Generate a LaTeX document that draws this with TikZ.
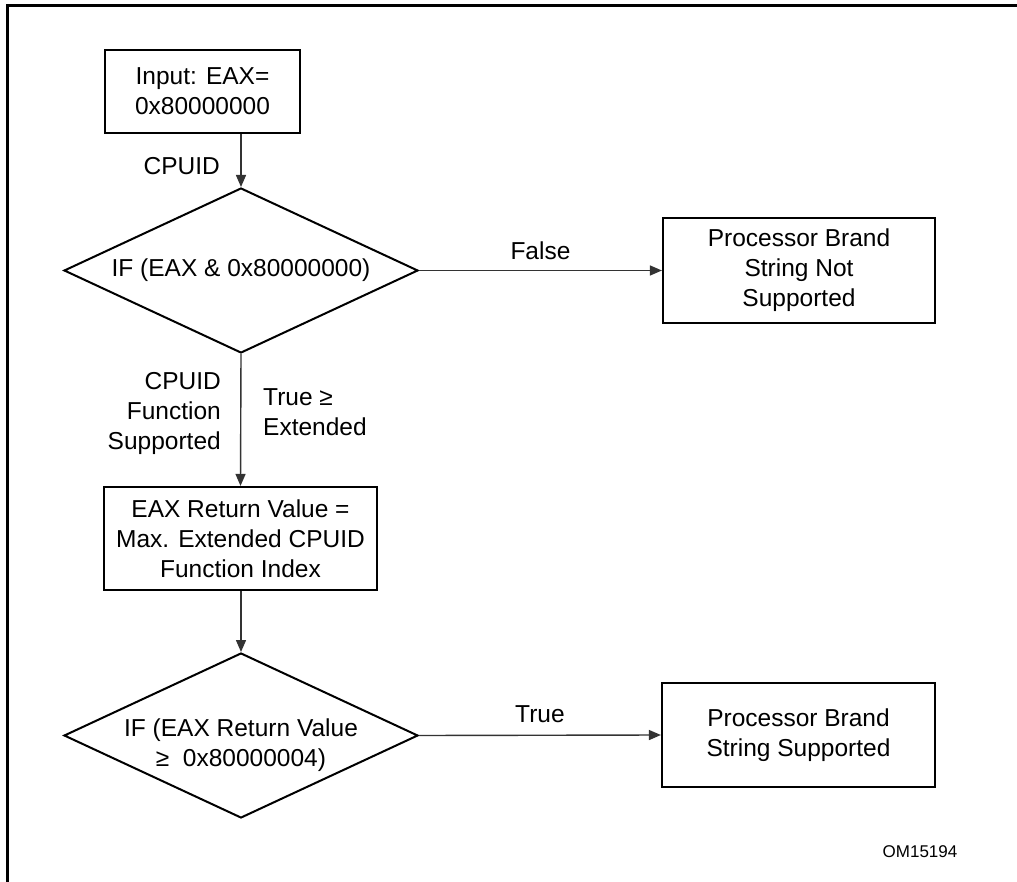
\documentclass[tikz,border=0pt]{standalone}
\usepackage{fontspec}
\setmainfont{Liberation Sans}
\usetikzlibrary{shapes.geometric,arrows.meta,shadows}
\begin{document}
\begin{tikzpicture}[x=1pt,y=-1pt,
  every node/.style={font=\fontsize{24.5}{30}\selectfont},
  box/.style={draw=black,line width=2.2pt,fill=white,align=center,inner sep=0pt,
    drop shadow={shadow xshift=1.2pt,shadow yshift=-1.2pt,fill=black!45,opacity=1}},
  dia/.style={draw=black,line width=2pt,shape=diamond,minimum width=354pt,minimum height=165pt,inner sep=0pt},
  txt/.style={align=center,inner sep=0pt},
  conn/.style={draw=black!80,line width=1.4pt,-{Triangle[length=12pt,width=10pt]}},
  lbl/.style={inner sep=0pt}]
\useasboundingbox (0,0) rectangle (1017,882);
\fill[white] (-10,-10) rectangle (1030,895);
\draw[line width=3pt] (7,895) -- (7,6) -- (1030,6);

\node[box,minimum width=195pt,minimum height=83pt] (b1) at (202.5,91.5) {Input: EAX=\\0x80000000};
\node[dia] (d1) at (241,270.5) {};
\node[txt] (t1) at (d1) {IF (EAX \& 0x80000000)};
\node[box,minimum width=272pt,minimum height=105pt] (b2) at (799,270.5) {Processor Brand\\String Not\\Supported};
\node[box,minimum width=273pt,minimum height=103pt] (b3) at (240.5,538.5) {EAX Return Value =\\Max. Extended CPUID\\Function Index};
\node[dia] (d2) at (241,735.5) {};
\node[txt] (t2) at (241,745) {IF (EAX Return Value\\≥\ \ 0x80000004)};
\node[box,minimum width=273pt,minimum height=104pt] (b4) at (798.5,735) {Processor Brand\\String Supported};

\draw[conn] (d1.north |- b1.south) -- (d1.north);
\node[lbl,anchor=east] (l1) at (220,166) {CPUID};
\draw[conn] (d1.east) -- (b2.west) node[lbl,midway,above=10pt] (l2) {False};
\draw[conn] (d1.south) -- (b3.north);
\node[lbl,anchor=east,align=right] (l3) at (221,413) {CPUID\\Function\\Supported};
\node[lbl,anchor=west,align=left] (l4) at (263,412) {True ≥\\Extended};
\draw[conn] (d2.north |- b3.south) -- (d2.north);
\draw[conn] (d2.east) -- (b4.west) node[lbl,midway,above=12pt] (l5) {True};
\node[lbl,font=\fontsize{17}{20}\selectfont] (om) at (920,852) {OM15194};
\end{tikzpicture}
\end{document}
